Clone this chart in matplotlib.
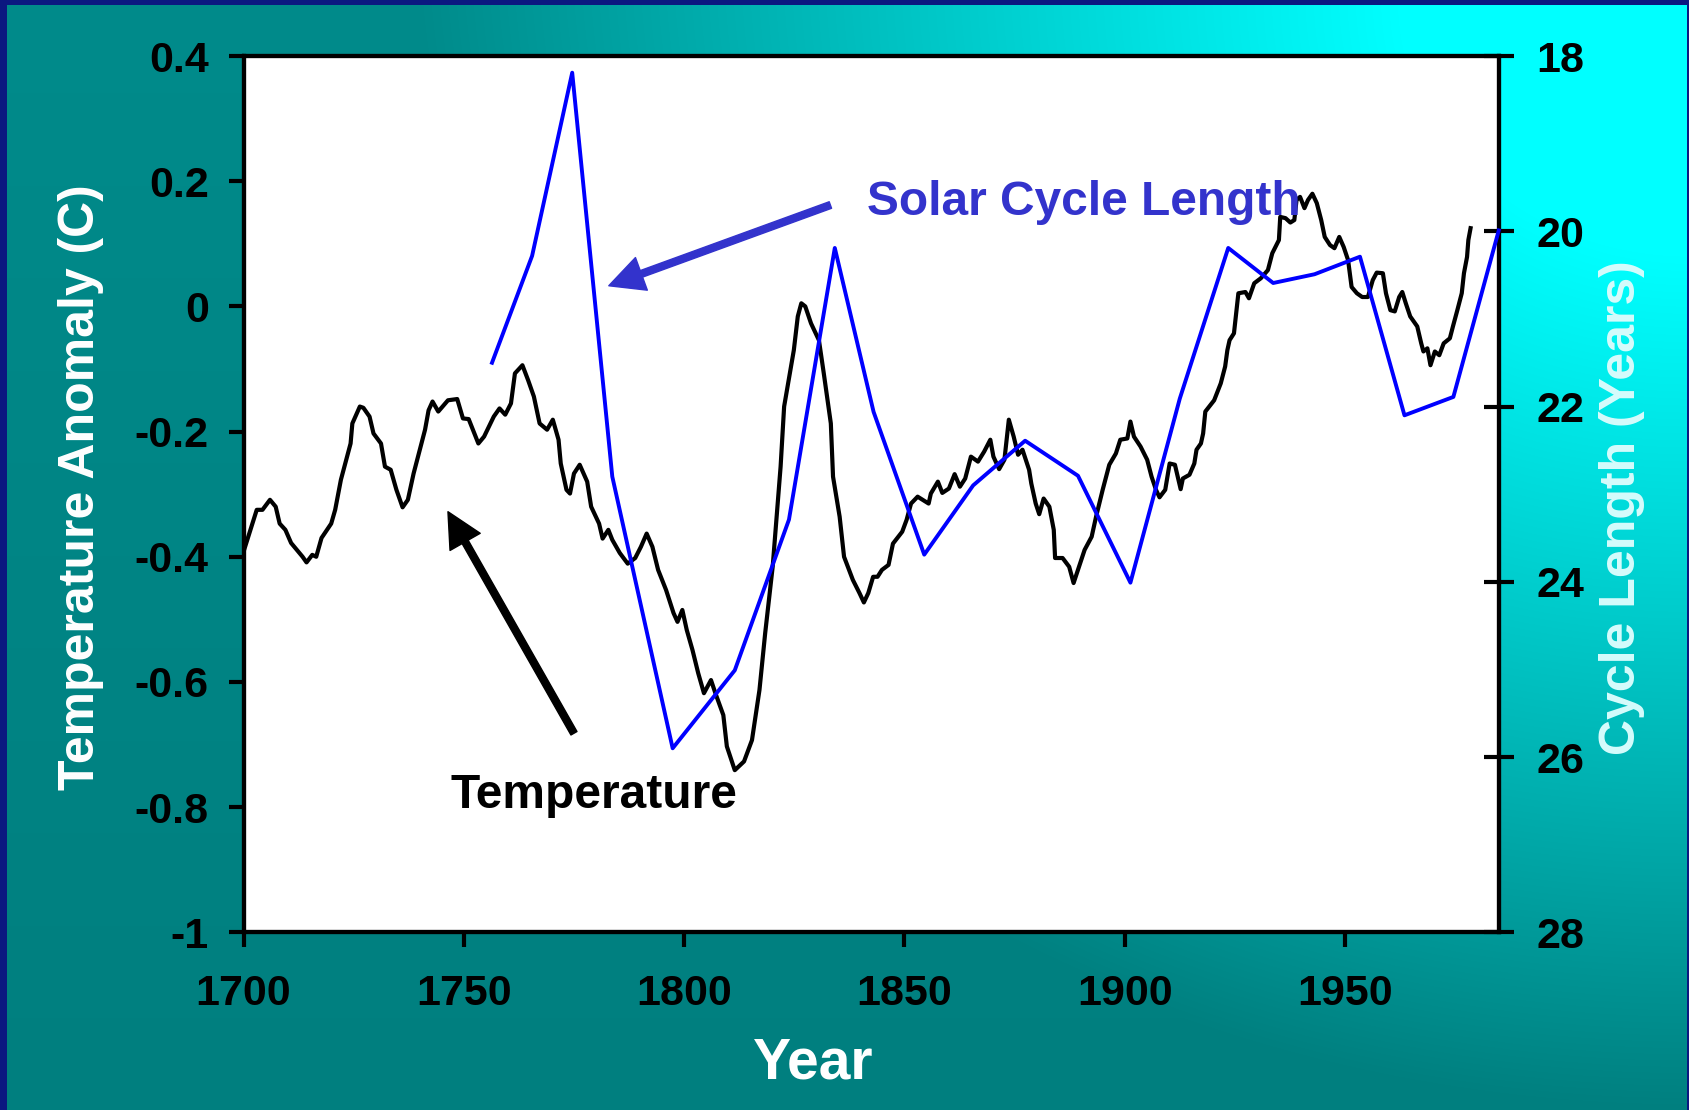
import numpy as np
import matplotlib
matplotlib.use("Agg")
import matplotlib.pyplot as plt
from matplotlib.ticker import FormatStrFormatter

plt.rcParams['font.family'] = ['Liberation Sans', 'DejaVu Sans']
plt.rcParams['font.weight'] = 'bold'

# Temperature anomaly (C)
temp_year = [1700.0, 1703.0, 1704.3, 1706.0, 1707.3, 1708.2, 1709.5, 1710.8, 1713.4, 1714.3,
             1715.6, 1716.5, 1717.7, 1719.9, 1720.8, 1722.1, 1724.3, 1724.7, 1726.4, 1727.2,
             1728.6, 1729.5, 1731.2, 1732.1, 1733.4, 1734.7, 1736.1, 1737.3, 1738.6, 1739.8,
             1741.2, 1742.0, 1742.9, 1744.2, 1746.4, 1748.5, 1749.8, 1751.1, 1753.3, 1754.6,
             1756.8, 1758.1, 1759.4, 1760.7, 1761.6, 1763.3, 1764.6, 1765.9, 1767.2, 1768.9,
             1770.2, 1771.5, 1772.0, 1773.3, 1774.1, 1775.0, 1776.3, 1778.0, 1778.9, 1780.7,
             1781.5, 1782.8, 1783.7, 1785.4, 1787.2, 1788.9, 1790.2, 1791.5, 1792.8, 1794.1,
             1795.9, 1797.6, 1798.5, 1799.6, 1800.6, 1801.9, 1803.2, 1804.5, 1806.1, 1807.1,
             1808.9, 1809.7, 1811.5, 1813.6, 1815.4, 1817.1, 1818.4, 1820.1, 1821.9, 1822.7,
             1824.0, 1824.9, 1825.8, 1826.6, 1827.5, 1828.8, 1830.6, 1831.7, 1833.3, 1833.8,
             1835.3, 1836.3, 1838.3, 1839.8, 1840.8, 1841.8, 1842.9, 1843.9, 1844.9, 1846.4,
             1847.4, 1849.5, 1850.5, 1851.5, 1853.0, 1855.5, 1856.0, 1857.6, 1858.6, 1860.1,
             1861.4, 1862.6, 1863.8, 1865.1, 1866.7, 1868.1, 1869.5, 1870.2, 1871.5, 1872.7,
             1873.7, 1874.8, 1875.8, 1876.8, 1878.3, 1878.8, 1879.8, 1880.6, 1881.6, 1882.9,
             1883.9, 1884.2, 1885.9, 1887.4, 1888.4, 1889.4, 1890.9, 1892.5, 1893.5, 1895.0,
             1896.5, 1898.0, 1899.0, 1900.6, 1901.3, 1902.1, 1903.6, 1905.1, 1906.1, 1907.1,
             1907.9, 1909.2, 1910.2, 1911.4, 1912.7, 1913.2, 1914.7, 1915.8, 1916.3, 1917.3,
             1917.8, 1918.3, 1920.3, 1921.8, 1922.8, 1923.3, 1923.8, 1924.8, 1925.8, 1927.4,
             1928.2, 1929.4, 1930.9, 1932.5, 1933.5, 1935.0, 1935.3, 1936.5, 1937.6, 1938.5,
             1939.0, 1939.8, 1940.8, 1941.6, 1942.6, 1943.6, 1944.6, 1945.4, 1946.6, 1947.6,
             1948.7, 1949.7, 1950.7, 1951.5, 1952.7, 1953.9, 1955.2, 1956.3, 1957.2, 1958.6,
             1959.3, 1960.3, 1961.3, 1962.3, 1963.0, 1963.8, 1964.8, 1966.4, 1967.3, 1967.8,
             1968.7, 1969.4, 1970.4, 1971.4, 1972.4, 1973.8, 1974.5, 1975.5, 1976.5, 1977.0,
             1977.7, 1978.0, 1978.5]
temp_anom = [-0.392, -0.325, -0.325, -0.309, -0.320, -0.347, -0.357, -0.378, -0.400, -0.409,
             -0.397, -0.400, -0.370, -0.347, -0.325, -0.277, -0.219, -0.187, -0.160, -0.162,
             -0.176, -0.203, -0.219, -0.256, -0.261, -0.293, -0.321, -0.309, -0.267, -0.235,
             -0.197, -0.166, -0.152, -0.168, -0.150, -0.148, -0.179, -0.180, -0.219, -0.208,
             -0.176, -0.163, -0.173, -0.155, -0.107, -0.094, -0.118, -0.144, -0.187, -0.197,
             -0.181, -0.213, -0.251, -0.293, -0.299, -0.267, -0.253, -0.280, -0.320, -0.347,
             -0.371, -0.357, -0.373, -0.394, -0.411, -0.402, -0.384, -0.363, -0.384, -0.421,
             -0.453, -0.490, -0.504, -0.485, -0.517, -0.549, -0.586, -0.618, -0.597, -0.618,
             -0.653, -0.703, -0.741, -0.727, -0.693, -0.613, -0.522, -0.416, -0.256, -0.160,
             -0.107, -0.070, -0.016, 0.005, 0.000, -0.027, -0.054, -0.107, -0.187, -0.272,
             -0.336, -0.400, -0.437, -0.458, -0.473, -0.458, -0.432, -0.432, -0.421, -0.413,
             -0.379, -0.360, -0.341, -0.315, -0.304, -0.315, -0.299, -0.280, -0.298, -0.291,
             -0.268, -0.288, -0.275, -0.240, -0.248, -0.232, -0.213, -0.240, -0.260, -0.245,
             -0.181, -0.208, -0.237, -0.229, -0.261, -0.283, -0.315, -0.332, -0.307, -0.320,
             -0.357, -0.402, -0.402, -0.416, -0.442, -0.421, -0.389, -0.368, -0.336, -0.293,
             -0.253, -0.235, -0.213, -0.211, -0.184, -0.208, -0.224, -0.245, -0.272, -0.293,
             -0.305, -0.293, -0.251, -0.253, -0.292, -0.275, -0.269, -0.251, -0.229, -0.219,
             -0.203, -0.168, -0.150, -0.123, -0.096, -0.070, -0.054, -0.043, 0.021, 0.023,
             0.013, 0.037, 0.045, 0.058, 0.085, 0.106, 0.143, 0.141, 0.134, 0.138,
             0.170, 0.175, 0.157, 0.170, 0.180, 0.165, 0.138, 0.111, 0.098, 0.093,
             0.111, 0.095, 0.074, 0.031, 0.021, 0.015, 0.015, 0.042, 0.054, 0.053,
             0.021, -0.006, -0.008, 0.015, 0.023, 0.005, -0.016, -0.032, -0.059, -0.072,
             -0.067, -0.094, -0.072, -0.078, -0.059, -0.051, -0.032, -0.006, 0.021, 0.053,
             0.079, 0.106, 0.125]

# Solar cycle length (years)
cycle_year = [1756.4, 1765.5, 1774.6, 1783.7, 1797.4, 1811.5, 1823.8, 1834.2, 1843.0, 1854.5,
              1865.6, 1877.4, 1889.4, 1901.3, 1912.5, 1923.5, 1933.7, 1943.1, 1953.4, 1963.5,
              1974.6, 1984.9]
cycle_len = [21.50, 20.28, 18.19, 22.80, 25.90, 25.01, 23.29, 20.19, 22.06, 23.69,
             22.90, 22.39, 22.79, 24.01, 21.91, 20.19, 20.59, 20.49, 20.29, 22.10,
             21.89, 19.99]

x_ticks = [1700, 1750, 1800, 1850, 1900, 1950]
temp_ticks = [-1, -0.8, -0.6, -0.4, -0.2, 0, 0.2, 0.4]
cycle_ticks = [18, 20, 22, 24, 26, 28]

fig = plt.figure(figsize=(16.9, 11.1), dpi=100)

# background: teal with a cyan glow from the top right, navy frame
H, W = 1110, 1690
yy, xx = np.mgrid[0:H, 0:W]
d = np.sqrt(((W - xx) / (0.75 * W)) ** 2 + (yy / H) ** 2)
f = np.clip((1 - d) * 1.3, 0, 1)
base = 139 - 12 * yy / H
g = (base + (255 - base) * f) / 255
img = np.zeros((H, W, 3))
img[..., 1] = g
img[..., 2] = g
navy = np.array([11, 24, 128]) / 255
img[:5] = navy
img[:, :7] = navy
img[:, -3:] = navy
bg = fig.add_axes([0, 0, 1, 1], zorder=-10)
bg.imshow(img, aspect='auto', interpolation='bilinear')
bg.axis('off')

ax = fig.add_axes([0.1441, 0.1601, 0.743, 0.7894])
ax.set_facecolor('white')
ax.plot(temp_year, temp_anom, color='black', lw=3, zorder=3)
ax.set_xlim(1700, 1985)
ax.set_ylim(-1, 0.4)
ax.set_xticks(x_ticks)
ax.set_yticks(temp_ticks)
ax.yaxis.set_major_formatter(FormatStrFormatter('%g'))
for s in ax.spines.values():
    s.set_linewidth(3)
ax.tick_params(axis='both', direction='out', length=11, width=3, labelsize=31)
ax.tick_params(axis='y', pad=14)
ax.tick_params(axis='x', pad=19)

ax.set_ylabel('Temperature Anomaly (C)', color='white', fontsize=36, fontweight='bold',
              va='center')
ax.yaxis.set_label_coords(-0.1295, 0.508)
ax.set_xlabel('Year', color='white', fontsize=41, fontweight='bold', va='center')
ax.xaxis.set_label_coords(0.454, -0.150)

ax2 = ax.twinx()
ax2.plot(cycle_year, cycle_len, color='#0000ff', lw=2.8, clip_on=False, zorder=3)
ax2.set_ylim(28, 18)
ax2.set_yticks(cycle_ticks)
for s in ax2.spines.values():
    s.set_linewidth(3)
ax2.tick_params(axis='y', direction='inout', length=21, width=3, labelsize=31, pad=16)
ax2.set_ylabel('Cycle Length (Years)', color='#d6fcfc', fontsize=36, fontweight='bold',
               va='center')
ax2.yaxis.set_label_coords(1.0978, 0.485)

# annotations
ax.annotate('', xy=(1782.9, 0.033), xytext=(1833.2, 0.162),
            arrowprops=dict(color='#3333cc', width=5, headwidth=25, headlength=25, shrink=0))
ax.text(1841.5, 0.146, 'Solar Cycle Length', color='#3333cc', fontsize=34.5,
        fontweight='bold', va='baseline', ha='left', zorder=5)
ax.annotate('', xy=(1746.4, -0.328), xytext=(1775.0, -0.682),
            arrowprops=dict(color='black', width=5, headwidth=25, headlength=25, shrink=0))
ax.text(1746.9, -0.801, 'Temperature', color='black', fontsize=34.5,
        fontweight='bold', va='baseline', ha='left', zorder=5)

fig.savefig('out.png', dpi=100)
